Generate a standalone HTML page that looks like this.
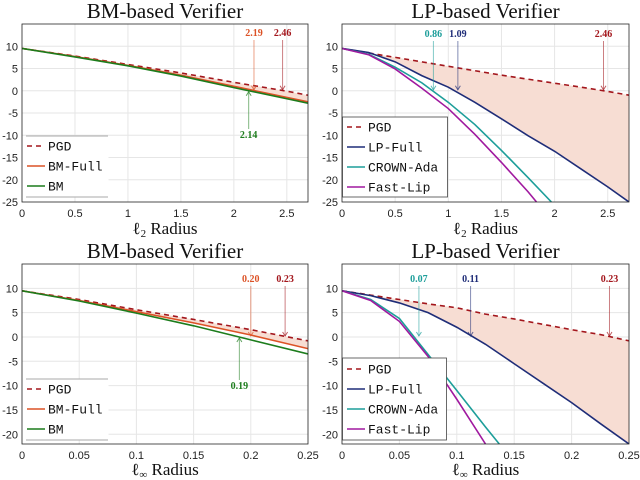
<!DOCTYPE html>
<html><head><meta charset="utf-8"><style>
body{margin:0;background:#fff;width:640px;height:480px;overflow:hidden}
svg{display:block}
.tk{font-family:"Liberation Sans",sans-serif;font-size:11px;fill:#222}
.ttl{font-family:"Liberation Serif",serif;font-size:21px;fill:#111}
.xl{font-family:"Liberation Serif",serif;font-size:17px;fill:#111}
.lg{font-family:"Liberation Mono",monospace;font-size:13px;fill:#111}
.an{font-family:"Liberation Serif",serif;font-size:10px;font-weight:bold}
</style></head><body>
<svg id="fig" width="640" height="480"></svg>
<script>
// ---------- data ----------
const tlX = [0,0.5,1,1.5,2,2.5,2.7];
const tlPGD = [9.5,7.8,5.9,4.0,1.9,-0.1,-1.0];
const tlBMFull = [9.5,7.7,5.7,3.5,1.0,-1.5,-2.5];
const tlBM = [9.5,7.6,5.6,3.3,0.7,-1.8,-2.8];
const trX = [0,0.25,0.5,0.75,1,1.25,1.5,1.75,2,2.25,2.5,2.7];
const trPGD = [9.5,8.5,7.5,6.5,5.5,4.5,3.5,2.6,1.7,0.8,-0.15,-1.0];
const trLPFull = [9.5,8.6,6.5,3.4,0.8,-2.6,-6.3,-10.1,-13.6,-17.6,-21.6,-25];
const crX = [0,0.25,0.5,0.75,1,1.25,1.5,1.75,1.97];
const trCROWN = [9.5,8.2,5.3,1.8,-2.6,-7.6,-13.4,-19.5,-25];
const flX = [0,0.25,0.5,0.75,1,1.25,1.5,1.75,1.83];
const trFast = [9.5,8.1,4.9,0.6,-4.0,-9.8,-16.1,-22.7,-25];
const blX = [0,0.05,0.1,0.15,0.2,0.25];
const blPGD = [9.5,7.7,5.6,3.6,1.5,-0.8];
const blBMFull = [9.5,7.5,5.2,2.9,0.4,-2.4];
const blBM = [9.5,7.4,4.9,2.3,-0.6,-3.5];
const brX = [0,0.025,0.05,0.075,0.1,0.125,0.15,0.175,0.2,0.225,0.25];
const brPGD = [9.5,8.6,7.7,6.8,6.0,4.7,3.7,2.6,1.5,0.5,-0.8];
const brLPFull = [9.5,8.5,7.0,5.0,2.0,-1.5,-5.5,-9.5,-13.5,-17.8,-22];
const brCX = [0,0.025,0.05,0.075,0.1,0.125,0.137];
const brCROWN = [9.5,7.7,3.8,-3.6,-11,-18.5,-22];
const brFX = [0,0.025,0.05,0.075,0.1,0.125];
const brFast = [9.5,7.5,3.2,-4.0,-12.8,-22];
const topXTicks = [0,0.5,1,1.5,2,2.5];
const topXLabels = ["0","0.5","1","1.5","2","2.5"];
const topYTicks = [10,5,0,-5,-10,-15,-20,-25];
const botXTicks = [0,0.05,0.1,0.15,0.2,0.25];
const botXLabels = ["0","0.05","0.1","0.15","0.2","0.25"];
const botYTicks = [10,5,0,-5,-10,-15,-20];

const C = {pgd:"#a3161c",bmf:"#dc5226",bm:"#1c7c1c",lp:"#1f2d78",cr:"#1d9e9a",fl:"#a0199f"};
const NS="http://www.w3.org/2000/svg";
const svg=document.getElementById('fig');
function mk(tag,attrs,parent){const e=document.createElementNS(NS,tag);for(const k in attrs)e.setAttribute(k,attrs[k]);(parent||svg).appendChild(e);return e;}

function panel(cfg){
  const g=mk('g',{});
  
  
  const L=cfg.x0,R=cfg.x1,T=cfg.y0,B=cfg.y1;
  const sx=v=>L+(v-cfg.xmin)/(cfg.xmax-cfg.xmin)*(R-L);
  const sy=v=>T+(cfg.ymax-v)/(cfg.ymax-cfg.ymin)*(B-T);
  const cid='clip'+cfg.name;
  const cp=mk('clipPath',{id:cid},g);mk('rect',{x:L,y:T,width:R-L,height:B-T},cp);
  cfg.xt.forEach((v,i)=>{
    const l=mk('line',{x1:sx(v),x2:sx(v),y1:T,y2:B,stroke:'#e6e6e6','stroke-width':1},g);
    
    
    const t=mk('text',{x:sx(v),y:B+15,'text-anchor':'middle',class:'tk'},g);t.textContent=cfg.xl[i];
    
    
  });
  cfg.yt.forEach(v=>{
    const l=mk('line',{x1:L,x2:R,y1:sy(v),y2:sy(v),stroke:'#e6e6e6','stroke-width':1},g);
    
    
    const t=mk('text',{x:L-4,y:sy(v)+4,'text-anchor':'end',class:'tk'},g);t.textContent=String(v);
    
    
  });
  const cg=mk('g',{'clip-path':'url(#'+cid+')'},g);
  const up=cfg.fillTop, lo=cfg.fillBot;
  let d='M'+up.x.map((x,i)=>sx(x)+','+sy(up.y[i])).join('L');
  for(let i=lo.x.length-1;i>=0;i--) d+='L'+sx(lo.x[i])+','+sy(lo.y[i]);
  const f=mk('path',{d:d+'Z',fill:'#f7ddd3',stroke:'none'},cg);
  
  
  cfg.series.forEach(s=>{
    const p=mk('path',{d:'M'+s.x.map((x,i)=>sx(x)+','+sy(s.y[i])).join('L'),fill:'none',stroke:s.c,'stroke-width':1.6,'stroke-dasharray':s.dash?'5,4':'none'},cg);
    
    
  });
  cfg.ann.forEach(a=>{
    const x=sx(a.v), y0=sy(0);
    const ag=mk('g',{},g);
    
    
    if(a.below){
      mk('line',{x1:x,x2:x,y1:a.ly-9,y2:y0+1,stroke:a.c,'stroke-opacity':0.55,'stroke-width':1},ag);
      mk('path',{d:`M${x-2.5},${y0+5}L${x},${y0+1}L${x+2.5},${y0+5}`,fill:'none',stroke:a.c,'stroke-opacity':0.7},ag);
    } else {
      mk('line',{x1:x,x2:x,y1:a.ly+4,y2:y0-1,stroke:a.c,'stroke-opacity':0.55,'stroke-width':1},ag);
      mk('path',{d:`M${x-2.5},${y0-5}L${x},${y0-1}L${x+2.5},${y0-5}`,fill:'none',stroke:a.c,'stroke-opacity':0.7},ag);
    }
    const t=mk('text',{x:x,y:a.ly,'text-anchor':'middle',class:'an',fill:a.c},ag);t.textContent=a.t;
  });
  const bx=mk('rect',{x:L,y:T,width:R-L,height:B-T,fill:'none',stroke:'#262626','stroke-width':0.8},g);
  
  
  const lgd=cfg.legend;
  const lg=mk('g',{},g);
  
  
  mk('rect',{x:L+0.5,y:lgd.y,width:lgd.w,height:lgd.h,fill:'#fff',stroke:'none'},lg);
  if(lgd.box){mk('rect',{x:L+0.5,y:lgd.y,width:lgd.w,height:lgd.h,fill:'none',stroke:'#444','stroke-width':0.8},lg);}
  else{
    mk('line',{x1:L+4,x2:L+lgd.w,y1:lgd.y,y2:lgd.y,stroke:'#aaa','stroke-width':1},lg);
    mk('line',{x1:L+4,x2:L+lgd.w,y1:lgd.y+lgd.h,y2:lgd.y+lgd.h,stroke:'#aaa','stroke-width':1},lg);
  }
  cfg.series.forEach((s,i)=>{
    const yy=lgd.y+lgd.first+i*lgd.step;
    const e=mk('g',{},lg);
    
    
    mk('line',{x1:L+5,x2:L+23,y1:yy,y2:yy,stroke:s.c,'stroke-width':1.6,'stroke-dasharray':s.dash?'5,4':'none'},e);
    const t=mk('text',{x:L+26,y:yy+4.5,class:'lg'},e);t.textContent=s.label;
  });
  const tt=mk('text',{x:(L+R)/2,y:cfg.ty,'text-anchor':'middle',class:'ttl'},g);tt.textContent=cfg.title;
  
  
  const xl=mk('text',{x:(L+R)/2,y:cfg.xly,'text-anchor':'middle',class:'xl'},g);
  xl.innerHTML=cfg.xlab;
  
  
}

const l2='ℓ<tspan font-size="11" dy="3">2</tspan><tspan dy="-3"> Radius</tspan>';
const linf='ℓ<tspan font-size="11" dy="3">∞</tspan><tspan dy="-3"> Radius</tspan>';

panel({name:'top-left-panel',title:'BM-based Verifier',ty:18,xly:234,xlab:l2,x0:22,x1:308,y0:24,y1:202,xmin:0,xmax:2.7,ymin:-25,ymax:15,
 xt:topXTicks,xl:topXLabels,yt:topYTicks,
 fillTop:{x:tlX,y:tlPGD},fillBot:{x:tlX,y:tlBMFull},
 series:[{n:'pgd',label:'PGD',x:tlX,y:tlPGD,c:C.pgd,dash:1},{n:'bm-full',label:'BM-Full',x:tlX,y:tlBMFull,c:C.bmf},{n:'bm',label:'BM',x:tlX,y:tlBM,c:C.bm}],
 ann:[{v:2.19,t:'2.19',c:C.bmf,ly:36},{v:2.46,t:'2.46',c:C.pgd,ly:36},{v:2.14,t:'2.14',c:C.bm,ly:138,below:1}],
 legend:{y:136,w:86,h:61,first:10,step:20,box:0}});
panel({name:'top-right-panel',title:'LP-based Verifier',ty:18,xly:234,xlab:l2,x0:342,x1:629,y0:24,y1:202,xmin:0,xmax:2.7,ymin:-25,ymax:15,
 xt:topXTicks,xl:topXLabels,yt:topYTicks,
 fillTop:{x:trX,y:trPGD},fillBot:{x:trX,y:trLPFull},
 series:[{n:'pgd',label:'PGD',x:trX,y:trPGD,c:C.pgd,dash:1},{n:'lp-full',label:'LP-Full',x:trX,y:trLPFull,c:C.lp},{n:'crown-ada',label:'CROWN-Ada',x:crX,y:trCROWN,c:C.cr},{n:'fast-lip',label:'Fast-Lip',x:flX,y:trFast,c:C.fl}],
 ann:[{v:0.86,t:'0.86',c:C.cr,ly:37},{v:1.09,t:'1.09',c:C.lp,ly:37},{v:2.46,t:'2.46',c:C.pgd,ly:37}],
 legend:{y:117,w:105,h:80,first:10,step:20,box:1}});
panel({name:'bottom-left-panel',title:'BM-based Verifier',ty:258,xly:475,xlab:linf,x0:22,x1:308,y0:264,y1:444,xmin:0,xmax:0.25,ymin:-22,ymax:15,
 xt:botXTicks,xl:botXLabels,yt:botYTicks,
 fillTop:{x:blX,y:blPGD},fillBot:{x:blX,y:blBMFull},
 series:[{n:'pgd',label:'PGD',x:blX,y:blPGD,c:C.pgd,dash:1},{n:'bm-full',label:'BM-Full',x:blX,y:blBMFull,c:C.bmf},{n:'bm',label:'BM',x:blX,y:blBM,c:C.bm}],
 ann:[{v:0.20,t:'0.20',c:C.bmf,ly:282},{v:0.23,t:'0.23',c:C.pgd,ly:282},{v:0.19,t:'0.19',c:C.bm,ly:389,below:1}],
 legend:{y:379,w:86,h:61,first:10,step:20,box:0}});
panel({name:'bottom-right-panel',title:'LP-based Verifier',ty:258,xly:475,xlab:linf,x0:342,x1:629,y0:264,y1:444,xmin:0,xmax:0.25,ymin:-22,ymax:15,
 xt:botXTicks,xl:botXLabels,yt:botYTicks,
 fillTop:{x:brX,y:brPGD},fillBot:{x:brX,y:brLPFull},
 series:[{n:'pgd',label:'PGD',x:brX,y:brPGD,c:C.pgd,dash:1},{n:'lp-full',label:'LP-Full',x:brX,y:brLPFull,c:C.lp},{n:'crown-ada',label:'CROWN-Ada',x:brCX,y:brCROWN,c:C.cr},{n:'fast-lip',label:'Fast-Lip',x:brFX,y:brFast,c:C.fl}],
 ann:[{v:0.067,t:'0.07',c:C.cr,ly:282},{v:0.112,t:'0.11',c:C.lp,ly:282},{v:0.233,t:'0.23',c:C.pgd,ly:282}],
 legend:{y:358,w:104,h:82,first:11,step:20,box:1}});
</script>
</body></html>
